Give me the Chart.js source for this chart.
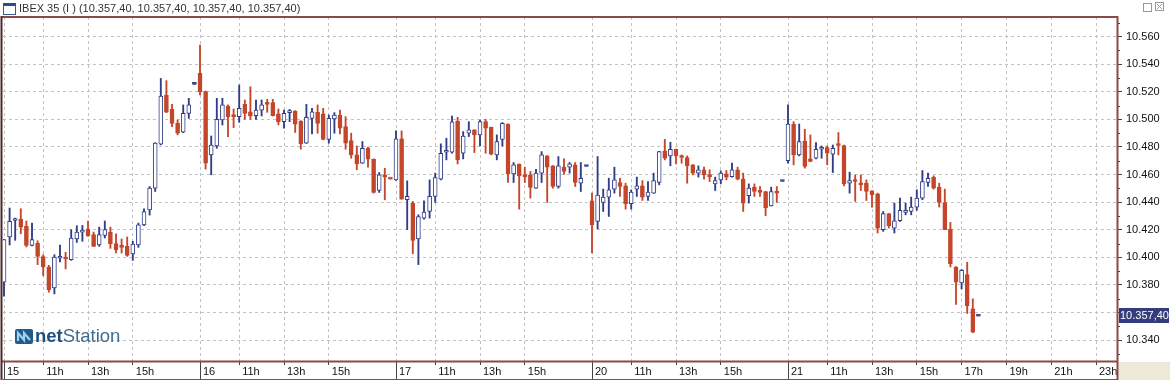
<!DOCTYPE html>
<html>
<head>
<meta charset="utf-8">
<script src="https://cdn.jsdelivr.net/npm/chart.js@4.4.1/dist/chart.umd.min.js"></script>
<style>
html, body { margin: 0; padding: 0; background: #fff; }
#wrap { position: relative; width: 1170px; height: 380px; overflow: hidden; font-family: "Liberation Sans", Arial, sans-serif; }
#chart { position: absolute; left: 0; top: 0; }
#hdr { position: absolute; left: 0; top: 0; width: 1170px; height: 16px; font-size: 11px; color: #333; }
#hdr .ico { position: absolute; left: 3px; top: 3px; width: 11px; height: 8px; border: 1px solid #3a5a8a; border-top: 3px solid #2a4f86; background: #fff; }
#hdr .ttl { position: absolute; left: 19px; top: 1px; line-height: 14px; }
#hdr .b1 { position: absolute; left: 1143px; top: 3px; width: 7px; height: 7px; border: 1px solid #999; }
#hdr .b2 { position: absolute; left: 1155px; top: 2px; width: 9px; height: 9px; color: #999; }
#logo { position: absolute; left: 15px; top: 325px; height: 22px; display: flex; align-items: center; }
#logo .txt { font-size: 18.5px; margin-left: 2px; }
#logo .net { font-weight: bold; color: #1d4f7f; }
#logo .st { color: #3f6d92; }
</style>
</head>
<body>
<div id="wrap">
  <canvas id="chart" width="1170" height="380"></canvas>
  <div id="hdr">
    <span class="ico"></span>
    <span class="ttl">IBEX 35 (I ) (10.357,40, 10.357,40, 10.357,40, 10.357,40)</span>
    <span class="b1"></span>
    <svg class="b2" viewBox="0 0 9 9"><rect x="0.5" y="0.5" width="8" height="8" fill="none" stroke="#999"/><path d="M2 2 L7 7 M7 2 L2 7" stroke="#999"/></svg>
  </div>
  <div id="logo">
    <svg width="18" height="15" viewBox="0 0 18 15"><rect x="0" y="0" width="18" height="15" rx="2" fill="#1f5b8e"/><path d="M3 12 L3 4 L9 11 L9 4 L15 11" stroke="#9fd0ef" stroke-width="2.2" fill="none"/></svg>
    <span class="txt"><span class="net">net</span><span class="st">Station</span></span>
  </div>
</div>
<script>
// 15-minute bars, slot 0 = day 15 09:15, 35 slots per trading day (last one is the closing auction)
const opens = [
  10.3819, 10.4147, 10.4267, 10.4277, 10.4224, 10.4087, 10.4101, 10.4005, 10.3930, 10.3778,
  10.3993, 10.4000, 10.3983, 10.4133, 10.4183, 10.4205, 10.4164, 10.4089, 10.4159, 10.4183,
  10.4099, 10.4079, 10.4079, 10.4024, 10.4089, 10.4234, 10.4344, 10.4501, 10.4819, 10.5176,
  10.5072, 10.4971, 10.4906, 10.5043, 10.5253,
  10.5333, 10.5200, 10.4742, 10.4807, 10.4995, 10.5096, 10.5031, 10.5019, 10.5108, 10.5055,
  10.5027, 10.5067, 10.5116, 10.5121, 10.5039, 10.4983, 10.5048, 10.5060, 10.4988, 10.4827,
  10.5007, 10.5051, 10.5039, 10.4855, 10.5002, 10.5031, 10.4947, 10.4846, 10.4742, 10.4682,
  10.4790, 10.4711, 10.4484, 10.4590, 10.4566,
  10.4561, 10.4858, 10.4417, 10.4393, 10.4133, 10.4284, 10.4332, 10.4441, 10.4566, 10.4761,
  10.4761, 10.4988, 10.4754, 10.4899, 10.4923, 10.4887, 10.4983, 10.4942, 10.4742, 10.4855,
  10.4966, 10.4605, 10.4675, 10.4597, 10.4597, 10.4501, 10.4610, 10.4735, 10.4663, 10.4513,
  10.4653, 10.4653, 10.4670, 10.4537, 10.4658,
  10.4409, 10.4260, 10.4397, 10.4436, 10.4494, 10.4542, 10.4518, 10.4388, 10.4494, 10.4518,
  10.4441, 10.4465, 10.4542, 10.4771, 10.4735, 10.4783, 10.4735, 10.4723, 10.4670, 10.4610,
  10.4634, 10.4597, 10.4532, 10.4561, 10.4605, 10.4585, 10.4634, 10.4566, 10.4446, 10.4508,
  10.4484, 10.4477, 10.4373, 10.4477, 10.4549,
  10.4701, 10.4966, 10.4742, 10.4843, 10.4713, 10.4718, 10.4783, 10.4795, 10.4747, 10.4822,
  10.4810, 10.4537, 10.4561, 10.4532, 10.4537, 10.4482, 10.4460, 10.4200, 10.4316, 10.4212,
  10.4265, 10.4325, 10.4332, 10.4364, 10.4429, 10.4542, 10.4581, 10.4508, 10.4397, 10.4205,
  10.3930, 10.3814, 10.3874, 10.3626, 10.3574
];
const highs = [
  10.4128, 10.4357, 10.4284, 10.4352, 10.4263, 10.4248, 10.4120, 10.4019, 10.3942, 10.4019,
  10.4089, 10.4036, 10.4200, 10.4229, 10.4231, 10.4263, 10.4183, 10.4219, 10.4263, 10.4219,
  10.4171, 10.4133, 10.4147, 10.4116, 10.4248, 10.4352, 10.4513, 10.4831, 10.5296, 10.5280,
  10.5108, 10.4995, 10.5104, 10.5152, 10.5253,
  10.5538, 10.5205, 10.4879, 10.5152, 10.5152, 10.5104, 10.5075, 10.5248, 10.5140, 10.5236,
  10.5140, 10.5140, 10.5145, 10.5145, 10.5075, 10.5067, 10.5072, 10.5063, 10.4990, 10.5108,
  10.5080, 10.5104, 10.5080, 10.5031, 10.5048, 10.5067, 10.5019, 10.4899, 10.4807, 10.4839,
  10.4798, 10.4713, 10.4614, 10.4645, 10.4566,
  10.4916, 10.4916, 10.4554, 10.4405, 10.4308, 10.4410, 10.4561, 10.4610, 10.4822, 10.4863,
  10.5024, 10.5014, 10.4911, 10.4983, 10.4925, 10.4995, 10.5000, 10.4944, 10.4887, 10.4976,
  10.4968, 10.4687, 10.4677, 10.4653, 10.4622, 10.4638, 10.4766, 10.4737, 10.4665, 10.4730,
  10.4713, 10.4687, 10.4687, 10.4687, 10.4658,
  10.4465, 10.4730, 10.4494, 10.4573, 10.4653, 10.4573, 10.4537, 10.4489, 10.4581, 10.4556,
  10.4549, 10.4610, 10.4768, 10.4855, 10.4834, 10.4785, 10.4742, 10.4735, 10.4672, 10.4663,
  10.4653, 10.4634, 10.4581, 10.4626, 10.4629, 10.4682, 10.4653, 10.4610, 10.4532, 10.4532,
  10.4513, 10.4479, 10.4508, 10.4513, 10.4549,
  10.5104, 10.4983, 10.4966, 10.4928, 10.4887, 10.4831, 10.4807, 10.4807, 10.4814, 10.4904,
  10.4814, 10.4617, 10.4597, 10.4597, 10.4561, 10.4484, 10.4465, 10.4332, 10.4318, 10.4393,
  10.4429, 10.4393, 10.4436, 10.4489, 10.4629, 10.4610, 10.4590, 10.4537, 10.4494, 10.4253,
  10.3932, 10.3911, 10.3964, 10.3699, 10.3574
];
const lows = [
  10.3718, 10.4089, 10.4123, 10.4171, 10.4075, 10.4082, 10.3947, 10.3867, 10.3747, 10.3735,
  10.3966, 10.3916, 10.3978, 10.4108, 10.4116, 10.4152, 10.4077, 10.4079, 10.4140, 10.4065,
  10.4031, 10.4031, 10.4007, 10.3978, 10.4072, 10.4230, 10.4306, 10.4477, 10.4815, 10.5048,
  10.4947, 10.4887, 10.4903, 10.5007, 10.5253,
  10.5176, 10.4639, 10.4598, 10.4790, 10.4959, 10.4875, 10.4940, 10.4978, 10.5000, 10.5000,
  10.5000, 10.5024, 10.5051, 10.5024, 10.4959, 10.4935, 10.4983, 10.4904, 10.4783, 10.4825,
  10.4894, 10.4899, 10.4851, 10.4827, 10.4899, 10.4894, 10.4783, 10.4718, 10.4634, 10.4680,
  10.4653, 10.4465, 10.4470, 10.4417, 10.4566,
  10.4558, 10.4420, 10.4200, 10.4026, 10.3947, 10.4277, 10.4284, 10.4398, 10.4561, 10.4706,
  10.4754, 10.4677, 10.4713, 10.4875, 10.4759, 10.4807, 10.4754, 10.4742, 10.4706, 10.4807,
  10.4542, 10.4542, 10.4349, 10.4542, 10.4429, 10.4499, 10.4542, 10.4398, 10.4501, 10.4501,
  10.4602, 10.4610, 10.4513, 10.4477, 10.4658,
  10.4031, 10.4205, 10.4332, 10.4296, 10.4465, 10.4441, 10.4349, 10.4349, 10.4441, 10.4412,
  10.4412, 10.4463, 10.4525, 10.4706, 10.4663, 10.4677, 10.4682, 10.4537, 10.4597, 10.4581,
  10.4566, 10.4549, 10.4484, 10.4532, 10.4561, 10.4581, 10.4561, 10.4332, 10.4393, 10.4441,
  10.4441, 10.4301, 10.4371, 10.4398, 10.4549,
  10.4682, 10.4670, 10.4735, 10.4646, 10.4692, 10.4713, 10.4718, 10.4670, 10.4614, 10.4742,
  10.4518, 10.4465, 10.4405, 10.4484, 10.4412, 10.4364, 10.4176, 10.4188, 10.4212, 10.4176,
  10.4260, 10.4308, 10.4308, 10.4340, 10.4417, 10.4513, 10.4494, 10.4364, 10.4200, 10.3930,
  10.3658, 10.3771, 10.3593, 10.3453, 10.3574
];
const closes = [
  10.4128, 10.4260, 10.4277, 10.4219, 10.4087, 10.4128, 10.4007, 10.3930, 10.3766, 10.4002,
  10.4002, 10.3988, 10.4140, 10.4183, 10.4193, 10.4157, 10.4079, 10.4164, 10.4200, 10.4099,
  10.4055, 10.4072, 10.4014, 10.4096, 10.4236, 10.4332, 10.4501, 10.4827, 10.5169, 10.5051,
  10.4971, 10.4899, 10.5043, 10.5104, 10.5253,
  10.5200, 10.4682, 10.4814, 10.5000, 10.5104, 10.5019, 10.5019, 10.5080, 10.5043, 10.5024,
  10.5067, 10.5104, 10.5108, 10.5027, 10.4983, 10.5043, 10.5055, 10.4964, 10.4822, 10.5014,
  10.5055, 10.4971, 10.4855, 10.5007, 10.5031, 10.4935, 10.4827, 10.4742, 10.4677, 10.4790,
  10.4711, 10.4470, 10.4598, 10.4581, 10.4566,
  10.4858, 10.4422, 10.4441, 10.4123, 10.4296, 10.4328, 10.4441, 10.4578, 10.4754, 10.4771,
  10.4981, 10.4706, 10.4879, 10.4923, 10.4887, 10.4983, 10.4935, 10.4747, 10.4839, 10.4971,
  10.4605, 10.4670, 10.4590, 10.4585, 10.4506, 10.4610, 10.4742, 10.4653, 10.4513, 10.4663,
  10.4622, 10.4677, 10.4542, 10.4573, 10.4658,
  10.4236, 10.4450, 10.4436, 10.4489, 10.4561, 10.4513, 10.4388, 10.4472, 10.4518, 10.4436,
  10.4472, 10.4556, 10.4766, 10.4718, 10.4783, 10.4735, 10.4723, 10.4663, 10.4610, 10.4634,
  10.4597, 10.4585, 10.4556, 10.4610, 10.4581, 10.4634, 10.4566, 10.4393, 10.4501, 10.4477,
  10.4470, 10.4357, 10.4477, 10.4465, 10.4549,
  10.4966, 10.4742, 10.4839, 10.4658, 10.4694, 10.4783, 10.4790, 10.4754, 10.4790, 10.4810,
  10.4532, 10.4556, 10.4549, 10.4525, 10.4477, 10.4453, 10.4212, 10.4316, 10.4229, 10.4265,
  10.4340, 10.4332, 10.4364, 10.4429, 10.4549, 10.4573, 10.4501, 10.4397, 10.4200, 10.3954,
  10.3819, 10.3906, 10.3650, 10.3458, 10.3574
];

const tickSlots = [0, 7, 15, 23, 35, 42, 50, 58, 70, 77, 85, 93, 105, 112, 120, 128, 140, 147, 155, 163, 171, 179, 187, 195];
const tickLabels = ['15', '11h', '13h', '15h', '16', '11h', '13h', '15h', '17', '11h', '13h', '15h', '20', '11h', '13h', '15h', '21', '11h', '13h', '15h', '17h', '19h', '21h', '23h'];
const daySlots = [0, 35, 70, 105, 140];
const priceTicks = [10.34, 10.36, 10.38, 10.40, 10.42, 10.44, 10.46, 10.48, 10.50, 10.52, 10.54, 10.56];
const lastPriceLabel = '10.357,40';

const RED = '#c4462a';
const NAVY = '#2f3c86';
const FRAME = '#8a4b45';
const GRID = '#c2c2c2';

Chart.defaults.font.family = '"Liberation Sans", Arial, sans-serif';
Chart.defaults.font.size = 11;
Chart.defaults.color = '#111';

const slots = opens.map((_, i) => i);
const isUp = slots.map(i => {
    if (closes[i] !== opens[i]) return closes[i] > opens[i];
    return i > 0 ? closes[i] >= closes[i - 1] : true;
});
const lineColors = isUp.map(u => u ? NAVY : RED);
const fillColors = isUp.map((u, i) => (u && highs[i] !== lows[i]) ? '#ffffff' : lineColors[i]);

const wickData = slots.map(i => ({ x: i, y: [lows[i], highs[i]] }));
const bodyData = slots.map(i => ({ x: i, y: [Math.min(opens[i], closes[i]), Math.max(opens[i], closes[i])] }));

const framePlugin = {
    id: 'frame',
    afterDraw(chart) {
        const { ctx, chartArea: a, scales: { x, y } } = chart;
        ctx.save();
        // bottom-right corner outside both axes
        ctx.fillStyle = '#ece9d8';
        ctx.fillRect(a.right + 1, a.bottom + 1, chart.width - a.right, chart.height - a.bottom);

        // minor ticks on the price axis
        ctx.strokeStyle = '#444';
        ctx.lineWidth = 1;
        ctx.beginPath();
        for (let i = 0; i < priceTicks.length + 1; i++) {
            const v = priceTicks[0] - 0.01 + i * 0.02;
            const py = Math.round(y.getPixelForValue(v)) + 0.5;
            if (py < a.top || py > a.bottom) continue;
            ctx.moveTo(a.right, py);
            ctx.lineTo(a.right + 3, py);
        }
        // day separators run through the whole time band
        daySlots.forEach(s => {
            const px = Math.round(x.getPixelForValue(s)) + 0.5;
            ctx.moveTo(px, a.bottom);
            ctx.lineTo(px, chart.height);
        });
        ctx.stroke();

        // frame lines
        ctx.strokeStyle = FRAME;
        ctx.lineWidth = 2;
        ctx.beginPath();
        ctx.moveTo(a.left - 1, a.top);
        ctx.lineTo(a.right, a.top);
        ctx.moveTo(a.left - 1, a.bottom + 0.5);
        ctx.lineTo(a.right + 1, a.bottom + 0.5);
        ctx.moveTo(a.right + 0.5, a.top - 1);
        ctx.lineTo(a.right + 0.5, chart.height);
        ctx.stroke();
        ctx.strokeStyle = '#4a2a28';
        ctx.beginPath();
        ctx.moveTo(a.left - 1.5, a.top - 1);
        ctx.lineTo(a.left - 1.5, chart.height);
        ctx.stroke();
        ctx.strokeStyle = FRAME;
        ctx.lineWidth = 1;
        ctx.beginPath();
        ctx.moveTo(a.left - 2, chart.height - 0.5);
        ctx.lineTo(a.right, chart.height - 0.5);
        ctx.stroke();

        // last price marker on the axis
        const last = closes[closes.length - 1];
        const ly = y.getPixelForValue(last);
        ctx.fillStyle = '#343d7c';
        ctx.fillRect(a.right + 2, Math.round(ly) - 8, chart.width - a.right - 3, 15);
        ctx.fillStyle = '#ffffff';
        ctx.textBaseline = 'middle';
        ctx.textAlign = 'left';
        ctx.font = '11px "Liberation Sans", Arial, sans-serif';
        ctx.fillText(lastPriceLabel, a.right + 3, Math.round(ly) - 0.5);
        ctx.restore();
    }
};

new Chart(document.getElementById('chart'), {
    type: 'bar',
    data: {
        datasets: [
            {
                label: 'body',
                data: bodyData,
                backgroundColor: fillColors,
                borderColor: lineColors,
                borderWidth: 1,
                borderSkipped: false,
                barThickness: 4,
                minBarLength: 2,
                grouped: false,
                order: 1
            },
            {
                label: 'wick',
                data: wickData,
                backgroundColor: lineColors,
                borderWidth: 0,
                barThickness: 1.2,
                grouped: false,
                order: 2
            }
        ]
    },
    options: {
        responsive: false,
        animation: false,
        events: [],
        layout: { padding: { top: 17, left: 3, right: 0, bottom: 0 } },
        plugins: { legend: { display: false }, tooltip: { enabled: false } },
        scales: {
            x: {
                type: 'linear',
                min: -0.179,
                max: 198.75,
                offset: false,
                grid: { offset: false, color: GRID, tickLength: 4, tickColor: '#444', tickBorderDash: [] },
                border: { display: false, dash: [3, 3] },
                afterBuildTicks: s => { s.ticks = tickSlots.map(v => ({ value: v })); },
                afterFit: s => { s.height = 19; },
                ticks: {
                    autoSkip: false,
                    maxRotation: 0,
                    align: 'start',
                    labelOffset: 3,
                    padding: 0,
                    color: '#111',
                    callback: (v, i) => tickLabels[i]
                }
            },
            y: {
                position: 'right',
                min: 10.32486,
                max: 10.57413,
                grid: { color: GRID, tickLength: 5, tickColor: '#444', tickBorderDash: [] },
                border: { display: false, dash: [3, 3] },
                afterBuildTicks: s => { s.ticks = priceTicks.map(v => ({ value: v })); },
                afterFit: s => { s.width = 53; },
                ticks: {
                    padding: 4,
                    color: '#111',
                    callback: v => v.toFixed(3)
                }
            }
        }
    },
    plugins: [framePlugin]
});
</script>
</body>
</html>
